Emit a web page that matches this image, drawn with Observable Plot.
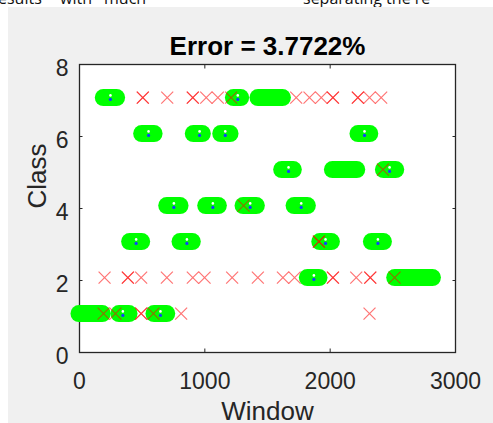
<!DOCTYPE html>
<html>
<head>
<meta charset="utf-8">
<script src="https://cdn.jsdelivr.net/npm/d3@7"></script>
<script src="https://cdn.jsdelivr.net/npm/@observablehq/plot@0.6"></script>
<style>
  html, body { margin: 0; padding: 0; background: #ffffff; }
  #wrap { position: relative; width: 493px; height: 423px; overflow: hidden; background: #ffffff; }
  #panel { position: absolute; left: 8px; top: 7px; width: 485px; height: 416px; background: #f0f0f0; }
  #doc { position: absolute; left: 0; top: 0; width: 493px; height: 7px; overflow: hidden; font-family: "Open Sans", "Liberation Sans", sans-serif; font-size: 16px; color: #111; }
  #doc span { position: absolute; top: -13px; white-space: nowrap; }
  #chart { position: absolute; left: 0; top: 0; }
</style>
</head>
<body>
<div id="wrap">
  <div id="doc"><span style="left:-2px">esults</span><span style="left:60px">with</span><span style="left:104px">much</span><span style="left:303px">separating the re</span></div>
  <div id="panel"></div>
  <div id="chart"></div>
</div>
<script>
// Predicted-class runs (green): class, first window, last window
const pillClass = [7, 7, 7, 6, 6, 6, 6, 5, 5, 5, 4, 4, 4, 4, 3, 3, 3, 3, 2, 2, 1, 1, 1];
const pillStart = [194, 1232, 1428, 500, 912, 1131, 2226, 1617, 2022, 2429, 700, 1011, 1309, 1716, 404, 806, 1921, 2333, 1822, 2519, 0, 319, 598];
const pillEnd   = [300, 1290, 1623, 599, 984, 1205, 2320, 1710, 2216, 2527, 806, 1112, 1415, 1822, 500, 904, 2014, 2429, 1915, 2820, 186, 399, 700];

// Small centre markers (blue / white)
const markWindow = [247, 1263, 551, 958, 1163, 2274, 1668, 2474, 753, 1064, 1362, 1769, 452, 857, 1963, 2381, 1870, 346, 646];
const markClass  = [7, 7, 6, 6, 6, 6, 5, 5, 4, 4, 4, 4, 3, 3, 3, 3, 2, 1, 1];

// Misclassified windows (red x)
const errWindow = [505, 505, 700, 904, 904, 1011, 1104, 1210, 1729, 1835, 1929, 2022, 2022, 2221, 2221, 2314, 2407,
                   2421,
                   1309,
                   1910, 1910,
                   200, 386, 386, 492, 697, 904, 998, 1218, 1423, 1623, 1716, 2022, 2022, 2208, 2320, 2320, 2514,
                   192, 287, 492, 492, 590, 811, 2314];
const errClass  = [7, 7, 7, 7, 7, 7, 7, 7, 7, 7, 7, 7, 7, 7, 7, 7, 7,
                   5,
                   4,
                   3, 3,
                   2, 2, 2, 2, 2, 2, 2, 2, 2, 2, 2, 2, 2, 2, 2, 2, 2,
                   1, 1, 1, 1, 1, 1, 1];

const xTicks = [0, 1000, 2000, 3000];
const yTicks = [0, 2, 4, 6, 8];
const titleText = "Error = 3.7722%";
const xLabel = "Window";
const yLabel = "Class";

const rowShift = 0.08;
const pills = pillClass.map((c, i) => ({cls: c, x1: pillStart[i], x2: pillEnd[i]}));
const marks = markClass.map((c, i) => ({cls: c, w: markWindow[i]}));
const errs = errClass.map((c, i) => ({cls: c, w: errWindow[i]}));

const axisColor = "#262626";
const chart = Plot.plot({
  width: 493,
  height: 423,
  marginLeft: 79,
  marginRight: 38,
  marginTop: 64,
  marginBottom: 71,
  style: {background: "transparent", fontFamily: "'Liberation Sans', Arial, sans-serif", color: axisColor, overflow: "visible"},
  x: {domain: [0, 3000]},
  y: {domain: [0, 8]},
  marks: [
    Plot.frame({fill: "white", stroke: axisColor, strokeWidth: 1.3}),
    Plot.axisX(xTicks, {anchor: "bottom", tickSize: 3.5, dy: -3.5, fill: "none", stroke: axisColor, label: null}),
    Plot.axisX(xTicks, {anchor: "top", tickSize: 3.5, dy: 3.5, fill: "none", stroke: axisColor, label: null}),
    Plot.axisY(yTicks, {anchor: "left", tickSize: 3.5, dx: 3.5, fill: "none", stroke: axisColor, label: null}),
    Plot.axisY(yTicks, {anchor: "right", tickSize: 3.5, dx: -3.5, fill: "none", stroke: axisColor, label: null}),
    Plot.axisX(xTicks, {anchor: "bottom", tickSize: 0, tickPadding: 20, tickFormat: "d", fontSize: 23, fill: axisColor, label: null}),
    Plot.axisY(yTicks, {anchor: "left", tickSize: 0, tickPadding: 11, tickFormat: "d", dy: 4, fontSize: 23, fill: axisColor, label: null}),
    Plot.ruleY(pills, {y: d => d.cls + rowShift, x1: "x1", x2: "x2", stroke: "#00ff00", strokeWidth: 17, strokeLinecap: "round"}),
    Plot.dot(errs, {x: "w", y: d => d.cls + rowShift, symbol: "times", r: 5.5, stroke: "#ff0000", strokeOpacity: 0.55, strokeWidth: 1.2}),
    Plot.dot(marks, {x: "w", y: d => d.cls + rowShift, r: 1.3, dy: -2.2, fill: "white", stroke: "none"}),
    Plot.dot(marks, {x: "w", y: d => d.cls + rowShift, r: 1.6, dy: 1.8, fill: "#1040ff", stroke: "none"}),
    Plot.text([titleText], {frameAnchor: "top", dy: -10, lineAnchor: "bottom", fontSize: 26, fontWeight: "bold", fill: "#000"}),
    Plot.text([xLabel], {frameAnchor: "bottom", dy: 67, lineAnchor: "bottom", fontSize: 26, fill: axisColor}),
    Plot.text([yLabel], {frameAnchor: "left", dx: -34, lineAnchor: "bottom", rotate: -90, fontSize: 26, fill: axisColor})
  ]
});
document.getElementById("chart").appendChild(chart);
</script>
</body>
</html>
